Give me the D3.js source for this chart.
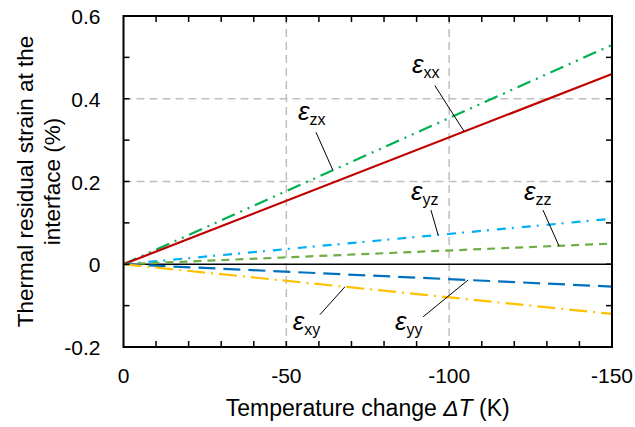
<!DOCTYPE html>
<html>
<head>
<meta charset="utf-8">
<script src="https://cdn.jsdelivr.net/npm/d3@7"></script>
<style>
  body { margin: 0; background: #fff; }
  text { font-family: "Liberation Sans", Arial, sans-serif; fill: #000; }
</style>
</head>
<body>
<script>

// temperature change (K) and strain (%) at each end of the lines
var deltaT = [0, -150];
var eps_zx = [0, 0.53];
var eps_xx = [0, 0.46];
var eps_yz = [0, 0.11];
var eps_zz = [0, 0.05];
var eps_yy = [0, -0.054];
var eps_xy = [0, -0.12];

var xTicks = [0, -50, -100, -150];
var yTicks = [-0.2, 0, 0.2, 0.4, 0.6];

var W = 635, H = 427;
var margin = { left: 123.5, right: 23, top: 16, bottom: 80 };

var x = d3.scaleLinear().domain([0, -150]).range([margin.left, W - margin.right]);
var y = d3.scaleLinear().domain([-0.2, 0.6]).range([H - margin.bottom, margin.top]);

var series = [
  { name: "zx", values: eps_zx, color: "#00B050", dash: "14,6,2,6,2,6" },
  { name: "xx", values: eps_xx, color: "#C00000", dash: null },
  { name: "yz", values: eps_yz, color: "#00B0F0", dash: "9,6,2,8" },
  { name: "zz", values: eps_zz, color: "#70AD47", dash: "8,6" },
  { name: "yy", values: eps_yy, color: "#0070C0", dash: "17,8" },
  { name: "xy", values: eps_xy, color: "#FFC000", dash: "18,6,2,6" }
];

// label spots: where the text sits and where the leader leaves it / meets its line
var notes = [
  { name: "xx", tx: -88.6, ty: 0.463, lx: -95.6, ly: 0.432, at: -104.6 },
  { name: "zx", tx: -53.6, ty: 0.348, lx: -59.1, ly: 0.319, at: -64.3 },
  { name: "yz", tx: -88.3, ty: 0.155, lx: -94.4, ly: 0.131, at: -96.6 },
  { name: "zz", tx: -123, ty: 0.155, lx: -128.8, ly: 0.131, at: -133.7 },
  { name: "xy", tx: -52, ty: -0.158, lx: -60.3, ly: -0.122, at: -68 },
  { name: "yy", tx: -83.4, ty: -0.158, lx: -92, ly: -0.127, at: -105.8 }
];

var svg = d3.select("body").append("svg")
  .attr("width", W)
  .attr("height", H);

var x0 = x.range()[0], x1 = x.range()[1];
var y0 = y.range()[0], y1 = y.range()[1];

// dashed grid
svg.append("g").selectAll("line")
  .data([-50, -100])
  .enter().append("line")
  .attr("x1", function(d) { return x(d); })
  .attr("x2", function(d) { return x(d); })
  .attr("y1", y1).attr("y2", y0)
  .attr("stroke", "#bfbfbf").attr("stroke-width", 1.5).attr("stroke-dasharray", "8,5");

svg.append("g").selectAll("line")
  .data([0.2, 0.4])
  .enter().append("line")
  .attr("y1", function(d) { return y(d); })
  .attr("y2", function(d) { return y(d); })
  .attr("x1", x0).attr("x2", x1)
  .attr("stroke", "#bfbfbf").attr("stroke-width", 1.5).attr("stroke-dasharray", "8,5");

// zero line
svg.append("line")
  .attr("x1", x0).attr("x2", x1)
  .attr("y1", y(0)).attr("y2", y(0))
  .attr("stroke", "#000").attr("stroke-width", 1.5);

var line = d3.line()
  .x(function(d, i) { return x(deltaT[i]); })
  .y(function(d) { return y(d); });

svg.append("g").selectAll("path")
  .data(series)
  .enter().append("path")
  .attr("d", function(d) { return line(d.values); })
  .attr("fill", "none")
  .attr("stroke", function(d) { return d.color; })
  .attr("stroke-width", 2.2)
  .attr("stroke-dasharray", function(d) { return d.dash; });

// frame
svg.append("rect")
  .attr("x", x0).attr("y", y1)
  .attr("width", x1 - x0).attr("height", y0 - y1)
  .attr("fill", "none").attr("stroke", "#000").attr("stroke-width", 2);

// inward ticks on all four sides
var tickLen = 6;
var xt = d3.range(-10, -150, -10);
var yt = d3.range(-1, 6).map(function(k) { return k / 10; });

svg.append("g").selectAll("line")
  .data(xt)
  .enter().append("line")
  .attr("x1", function(d) { return x(d); }).attr("x2", function(d) { return x(d); })
  .attr("y1", y0).attr("y2", y0 - tickLen)
  .attr("stroke", "#000").attr("stroke-width", 1.5);
svg.append("g").selectAll("line")
  .data(xt)
  .enter().append("line")
  .attr("x1", function(d) { return x(d); }).attr("x2", function(d) { return x(d); })
  .attr("y1", y1).attr("y2", y1 + tickLen)
  .attr("stroke", "#000").attr("stroke-width", 1.5);
svg.append("g").selectAll("line")
  .data(yt)
  .enter().append("line")
  .attr("y1", function(d) { return y(d); }).attr("y2", function(d) { return y(d); })
  .attr("x1", x0).attr("x2", x0 + tickLen)
  .attr("stroke", "#000").attr("stroke-width", 1.5);
svg.append("g").selectAll("line")
  .data(yt)
  .enter().append("line")
  .attr("y1", function(d) { return y(d); }).attr("y2", function(d) { return y(d); })
  .attr("x1", x1).attr("x2", x1 - tickLen)
  .attr("stroke", "#000").attr("stroke-width", 1.5);

// tick labels
svg.append("g").selectAll("text")
  .data(xTicks)
  .enter().append("text")
  .attr("x", function(d) { return x(d); })
  .attr("y", y0 + 36)
  .attr("text-anchor", "middle")
  .style("font-size", "21px")
  .text(function(d) { return d; });

svg.append("g").selectAll("text")
  .data(yTicks)
  .enter().append("text")
  .attr("x", x0 - 23)
  .attr("y", function(d) { return y(d) + 8; })
  .attr("text-anchor", "end")
  .style("font-size", "21px")
  .text(function(d) { return d === 0 ? "0" : d.toFixed(1); });

// axis titles
var xt_ = svg.append("text")
  .attr("x", (x0 + x1) / 2)
  .attr("y", 416)
  .attr("text-anchor", "middle")
  .style("font-size", "23px");
xt_.append("tspan").text("Temperature change ");
xt_.append("tspan").style("font-style", "italic").text("ΔT");
xt_.append("tspan").text(" (K)");

var yMid = (y0 + y1) / 2;
svg.append("text")
  .attr("transform", "translate(33," + yMid + ") rotate(-90)")
  .attr("text-anchor", "middle")
  .style("font-size", "22.5px")
  .text("Thermal residual strain at the");
svg.append("text")
  .attr("transform", "translate(60," + yMid + ") rotate(-90)")
  .attr("text-anchor", "middle")
  .style("font-size", "22.5px")
  .text("interface (%)");

// strain labels with leader lines
function valueAt(name, t) {
  var s = series.filter(function(d) { return d.name === name; })[0];
  var v = d3.scaleLinear().domain(deltaT).range(s.values);
  return v(t);
}

svg.append("g").selectAll("line")
  .data(notes)
  .enter().append("line")
  .attr("x1", function(d) { return x(d.lx); })
  .attr("y1", function(d) { return y(d.ly); })
  .attr("x2", function(d) { return x(d.at); })
  .attr("y2", function(d) { return y(valueAt(d.name, d.at)); })
  .attr("stroke", "#000").attr("stroke-width", 1);

var lab = svg.append("g").selectAll("text")
  .data(notes)
  .enter().append("text")
  .attr("x", function(d) { return x(d.tx); })
  .attr("y", function(d) { return y(d.ty); });
lab.append("tspan")
  .style("font-size", "26px")
  .style("font-style", "italic")
  .text("ε");
lab.append("tspan")
  .attr("dy", 5)
  .style("font-size", "16px")
  .text(function(d) { return d.name; });

</script>
</body>
</html>
